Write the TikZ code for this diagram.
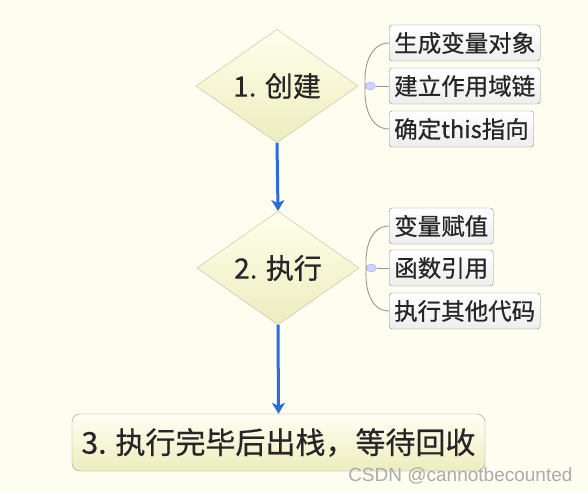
\documentclass[tikz,border=0pt]{standalone}
\usepackage{fontspec}
\setmainfont{Noto Sans CJK SC}[FakeBold=0.6,AutoFakeBold=0.6]
\newfontfamily\markfont{Liberation Sans}
\usetikzlibrary{shapes.geometric,positioning,arrows.meta}
\definecolor{paper}{HTML}{FDFDF0}
\definecolor{flowblue}{HTML}{2B6BDB}
\definecolor{rimtan}{HTML}{C4BE9C}
\definecolor{rimgray}{HTML}{8C8C8C}
\definecolor{twig}{HTML}{9A9888}
\tikzset{
  >={Stealth[length=11pt,width=13pt,inset=3pt]},
  step node/.style={shape=diamond,draw=rimtan,top color=white!40!yellow!12,bottom color=yellow!20!olive!18,
    minimum width=162pt,minimum height=108pt,inner sep=0pt,text=black!85,font=\fontsize{28}{30}\selectfont},
  leaf/.style={draw=rimgray,rounded corners=3pt,top color=white,bottom color=black!7,
    minimum height=36pt,inner xsep=5pt,inner ysep=0pt,anchor=west,text=black!85,font=\fontsize{23.5}{25}\selectfont},
  final/.style={draw=rimtan!80!black,rounded corners=8pt,top color=yellow!4,bottom color=yellow!20!olive!18,
    minimum width=413pt,minimum height=57pt,text=black!85,font=\fontsize{30}{32}\selectfont},
  knob/.style={ellipse,draw=blue!35,fill=blue!18,minimum width=10pt,minimum height=8pt,inner sep=0pt},
}
\tikzstyle{flow}=[line width=3pt,flowblue,->]
\tikzstyle{branch}=[twig,line width=0.9pt]
\begin{document}
\begin{tikzpicture}[x=1pt,y=-1pt]
    \fill[paper] (0,0) rectangle (588,492);
    \useasboundingbox (0,0) rectangle (588,492);
    % main steps
    \node[step node] (create) at (277,86) {1. 创建};
    \node[step node] (run) at (278,268) {2. 执行};
    \node[final] (done) at (278.5,442.5) {3. 执行完毕后出栈，等待回收};
    \draw[flow] (create.south)--(run.north);
    \draw[flow] (run.south)--(done.north);
    % details of step 1
    \node[knob,right=7pt of create.east] (knobA) {};
    \node[leaf] (varobj) at (389,43) {生成变量对象};
    \node[leaf] (scope) at (389,86) {建立作用域链};
    \node[leaf] (thisref) at (389,129) {确定this指向};
    \draw[branch] (knobA.west) to[out=95,in=180] (varobj.west);
    \draw[branch] (knobA.east)--(scope.west);
    \draw[branch] (knobA.west) to[out=-95,in=180] (thisref.west);
    % details of step 2
    \node[knob,right=7pt of run.east] (knobB) {};
    \node[leaf] (assign) at (389,226) {变量赋值};
    \node[leaf] (funref) at (389,268) {函数引用};
    \node[leaf] (other) at (389,311) {执行其他代码};
    \draw[branch] (knobB.west) to[out=95,in=180] (assign.west);
    \draw[branch] (knobB.east)--(funref.west);
    \draw[branch] (knobB.west) to[out=-95,in=180] (other.west);
    \node[anchor=east,text=black!33,font=\markfont\fontsize{19}{21}\selectfont] (mark) at (576,476) {CSDN @cannotbecounted};
  \end{tikzpicture}
\end{document}
